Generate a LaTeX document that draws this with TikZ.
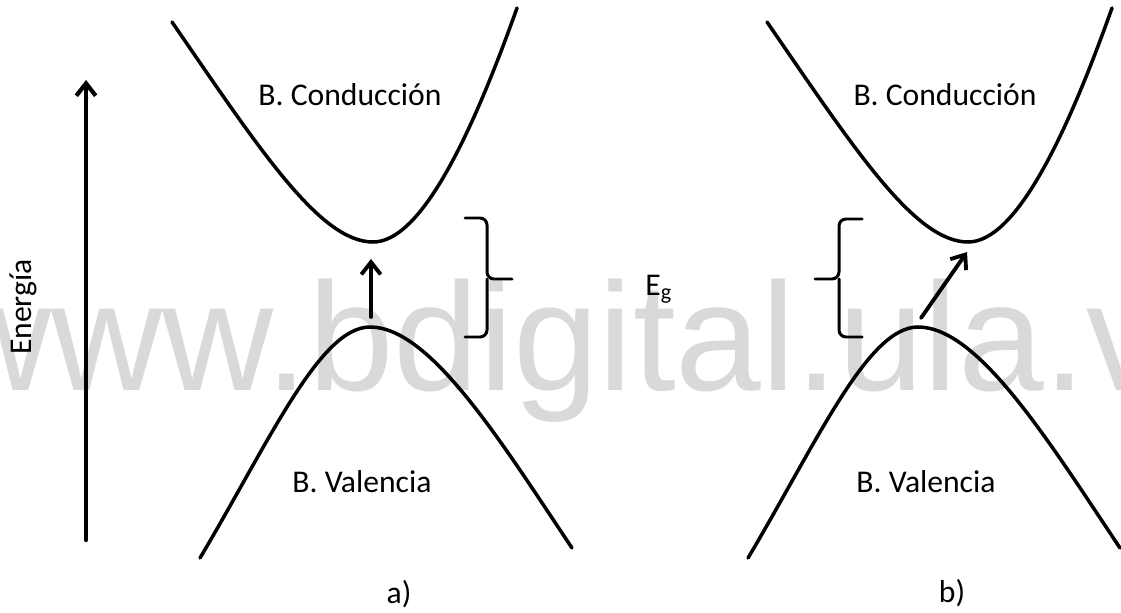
\documentclass[tikz,border=0pt]{standalone}
\usepackage{fontspec}
\setmainfont{Carlito}
\newfontfamily\wmfont{Liberation Sans}
\usetikzlibrary{arrows.meta,positioning}
\definecolor{wmgray}{RGB}{217,217,217}

\begin{document}
\begin{tikzpicture}[x=0.02cm, y=-0.02cm, line cap=round,
    band/.style={line width=2pt},
    gap/.style={line width=1.7pt, rounded corners=4pt},
    jump/.style={line width=2.2pt, -{Straight Barb[length=7pt, width=11pt]}},
    lbl/.style={anchor=base, inner sep=0pt, font=\fontsize{18}{20}\selectfont}]
  \useasboundingbox (0,0) rectangle (1121,612);
  \clip (0,0) rectangle (1121,612);
  % watermark
  \node[anchor=base west, inner sep=0pt, text=wmgray, font=\wmfont\fontsize{87.6}{90}\selectfont]
       (wm) at (-60,390) {www.bdigital.ula.ve};
  % energy axis
  \coordinate (e0) at (86,540);
  \coordinate (e1) at (86,80);
  \draw[line width=2.4pt, -{Straight Barb[length=7pt, width=11pt]}] (e0) -- (e1);
  \node[lbl, anchor=center, rotate=90] (energia) at (23,307) {Energía};
  % a) direct gap
  \draw[band] (172,22) .. controls (260,150) and (320,242) .. (373,242) coordinate (cmin-a)
       .. controls (420,242) and (470,140) .. (517,8);
  \draw[band] (200,558) .. controls (270,440) and (320,327) .. (370,327) coordinate (vmax-a)
       .. controls (430,327) and (500,440) .. (572,548);
  \coordinate (ja0) at (371,317);
  \coordinate (ja1) at (371,259);
  \draw[jump] (ja0) -- (ja1);
  \draw[gap] (465,218) -- (487,218) -- (487,279) -- (512,279);
  \draw[gap] (487,279) -- (487,337) -- (465,337);
  \node[lbl] (cond-a) at (350,105) {B. Conducción};
  \node[lbl] (val-a) at (362,492) {B. Valencia};
  \node[lbl] (lab-a) at (399,603) {a)};
  % b) indirect gap
  \begin{scope}[shift={(595,0)}]
    \draw[band] (172,22) .. controls (260,150) and (320,242) .. (373,242) coordinate (cmin-b)
         .. controls (420,242) and (470,140) .. (517,8);
  \end{scope}
  \begin{scope}[shift={(548,0)}]
    \draw[band] (200,558) .. controls (270,440) and (320,327) .. (370,327) coordinate (vmax-b)
         .. controls (430,327) and (500,440) .. (572,548);
  \end{scope}
  \coordinate (jb0) at (921,318);
  \coordinate (jb1) at (967,252);
  \draw[jump] (jb0) -- (jb1);
  \draw[gap] (862,219) -- (839,219) -- (839,279) -- (815,279);
  \draw[gap] (839,279) -- (839,337) -- (862,337);
  \node[lbl, anchor=base west] (eg) at (645,295) {E\textsubscript{g}};
  \node[lbl] (cond-b) at (945,105) {B. Conducción};
  \node[lbl] (val-b) at (926,492) {B. Valencia};
  \node[lbl] (lab-b) at (952,602) {b)};
\end{tikzpicture}
\end{document}
